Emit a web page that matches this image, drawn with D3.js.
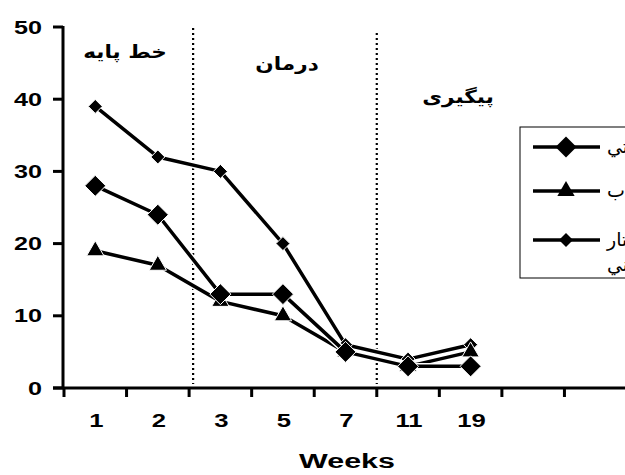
<!DOCTYPE html>
<html><head><meta charset="utf-8">
<script src="https://cdn.jsdelivr.net/npm/d3@7"></script>
<style>body{margin:0;background:#fff}svg{display:block}</style>
</head><body>
<script>
const weeks = ["1","2","3","5","7","11","19","",""];
const seriesNames = ["شناختي","اضطراب","رفتار","جسماني"];
const seriesA = [28,24,13,13,5,3,3];   // large diamond
const seriesB = [19,17,12,10,5,3,5];   // triangle
const seriesC = [39,32,30,20,6,4,6];   // small diamond
const yTicks = [0,10,20,30,40,50];
const phases = ["خط پایه","درمان","پیگیری"];

const W=625,H=475;
const svg=d3.select("body").append("svg").attr("width",W).attr("height",H);
const x=d3.scaleBand().domain(weeks.map((d,i)=>i)).range([64,627]).padding(0);
const y=d3.scaleLinear().domain([0,50]).range([388,27]);
const cx=i=>x(i)+x.bandwidth()/2;

function txt(px,py,s,opts){
  const g=svg.append("g").attr("transform",`translate(${px},${py}) scale(${opts.sx||1},1)`);
  return g.append("text").attr("x",0).attr("y",0).attr("text-anchor",opts.anchor||"middle")
    .attr("font-family",opts.family||"Liberation Sans, Arial").attr("font-weight",opts.weight||"bold")
    .attr("font-size",opts.size).text(s);
}

// phase separators
[2,5].forEach((b,k)=>{
  const xx=x(b)+(k===0?4:0);
  svg.append("line").attr("x1",xx).attr("x2",xx).attr("y1",k===0?28:33).attr("y2",384)
    .attr("stroke","#000").attr("stroke-width",2.2).attr("stroke-dasharray","2,3");
});

// axes
svg.append("line").attr("x1",63).attr("x2",63).attr("y1",26).attr("y2",389).attr("stroke","#000").attr("stroke-width",3);
svg.append("line").attr("x1",53).attr("x2",625).attr("y1",388).attr("y2",388).attr("stroke","#000").attr("stroke-width",3);
yTicks.forEach(t=>{
  svg.append("line").attr("x1",53).attr("x2",63).attr("y1",y(t)).attr("y2",y(t)).attr("stroke","#000").attr("stroke-width",3);
  txt(42,y(t)+6.5,t,{anchor:"end",size:18,sx:1.4});
});
weeks.forEach((w,i)=>{
  svg.append("line").attr("x1",x(i)).attr("x2",x(i)).attr("y1",388).attr("y2",397).attr("stroke","#000").attr("stroke-width",3);
  if(w) txt(cx(i)+1,427,w,{size:19,sx:1.35});
});
txt(347,468,"Weeks",{size:21,sx:1.45});

// phase labels
const pl=[[125,58],[287,70],[458,103]];
phases.forEach((p,i)=>txt(pl[i][0],pl[i][1],p,{family:"DejaVu Sans",size:18,sx:1.2}));

const line=d3.line().x((d,i)=>cx(i)).y(d=>y(d));
const diamond=s=>`M0,${-s}L${s},0L0,${s}L${-s},0Z`;
const tri=d3.symbol().type(d3.symbolTriangle).size(130)();
function drawSeries(data){
  svg.append("path").attr("d",line(data)).attr("fill","none").attr("stroke","#fff").attr("stroke-width",6.5).attr("stroke-linejoin","round");
  svg.append("path").attr("d",line(data)).attr("fill","none").attr("stroke","#000").attr("stroke-width",3.5).attr("stroke-linejoin","round");
}
function drawMarkers(data,shape){
  data.forEach((d,i)=>svg.append("path").attr("transform",`translate(${cx(i)},${y(d)})`).attr("d",shape)
    .attr("fill","#000").attr("stroke","#fff").attr("stroke-width",1));
}
const bigD=diamond(10.5), smallD=diamond(7);
drawSeries(seriesC); drawMarkers(seriesC,smallD);
drawSeries(seriesB); drawMarkers(seriesB,tri);
drawSeries(seriesA); drawMarkers(seriesA,bigD);

// legend
const lg=svg.append("g");
lg.append("rect").attr("x",520).attr("y",127).attr("width",120).attr("height",151).attr("fill","#fff").attr("stroke","#000").attr("stroke-width",1);
const items=[[147,bigD,seriesNames[0]],[191,tri,seriesNames[1]],[240,smallD,seriesNames[2]]];
items.forEach(([yy,shape,name])=>{
  lg.append("line").attr("x1",533).attr("x2",600).attr("y1",yy).attr("y2",yy).attr("stroke","#000").attr("stroke-width",3.5);
  lg.append("path").attr("transform",`translate(566,${yy})`).attr("d",shape).attr("fill","#000");
  lg.append("text").attr("x",607).attr("y",yy+6).attr("text-anchor","start")
    .attr("font-family","DejaVu Sans").attr("font-size",19).text(name);
});
lg.append("text").attr("x",607).attr("y",271).attr("text-anchor","start")
  .attr("font-family","DejaVu Sans").attr("font-size",19).text(seriesNames[3]);
</script>
</body></html>
